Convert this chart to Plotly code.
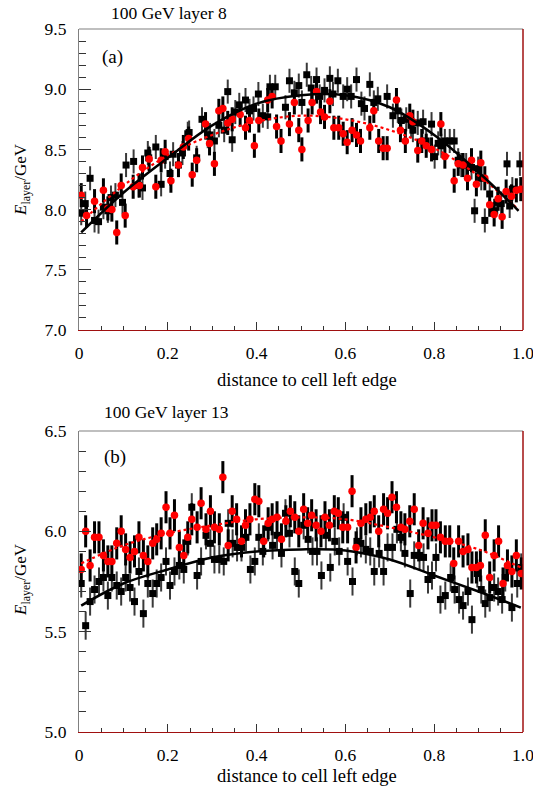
import plotly.graph_objects as go

# ---------------- data: panel (a) 100 GeV layer 8 ----------------
a_black_x = [0.005, 0.014, 0.025, 0.035, 0.044, 0.055, 0.065, 0.072, 0.082, 0.098,
             0.106, 0.123, 0.134, 0.143, 0.155, 0.157, 0.173, 0.185, 0.194, 0.205,
             0.212, 0.224, 0.233, 0.245, 0.248, 0.265, 0.277, 0.290, 0.295, 0.305,
             0.315, 0.327, 0.335, 0.345, 0.352, 0.361, 0.375, 0.384, 0.393, 0.404,
             0.414, 0.425, 0.430, 0.442, 0.465, 0.474, 0.485, 0.495, 0.502, 0.513,
             0.523, 0.535, 0.542, 0.553, 0.565, 0.572, 0.583, 0.595, 0.604, 0.613,
             0.625, 0.636, 0.643, 0.655, 0.664, 0.673, 0.694, 0.707, 0.718, 0.726,
             0.737, 0.748, 0.752, 0.763, 0.775, 0.782, 0.794, 0.801, 0.809, 0.816,
             0.824, 0.835, 0.845, 0.854, 0.861, 0.872, 0.884, 0.891, 0.899, 0.906,
             0.914, 0.925, 0.935, 0.942, 0.951, 0.964, 0.970, 0.976, 0.993]
a_black_y = [7.97, 8.05, 8.26, 7.91, 7.90, 8.02, 7.99, 8.10, 8.12, 8.06,
             8.37, 8.40, 8.20, 8.18, 8.47, 8.43, 8.52, 8.21, 8.44, 8.30,
             8.46, 8.37, 8.47, 8.63, 8.64, 8.43, 8.75, 8.61, 8.62, 8.57,
             8.70, 8.66, 8.98, 8.58, 8.81, 8.87, 8.91, 8.82, 8.84, 8.96,
             8.78, 8.77, 9.02, 9.02, 8.85, 9.07, 8.97, 9.03, 8.89, 9.12,
             9.01, 9.08, 8.94, 8.99, 9.09, 8.96, 9.07, 8.94, 9.00, 8.94,
             9.08, 8.88, 8.84, 9.04, 8.89, 8.92, 8.94, 8.78, 8.82, 8.74,
             8.75, 8.70, 8.66, 8.72, 8.73, 8.57, 8.71, 8.44, 8.55, 8.53,
             8.57, 8.57, 8.57, 8.41, 8.37, 8.37, 8.35, 7.99, 8.34, 8.26,
             7.91, 8.13, 7.99, 8.06, 8.05, 8.38, 8.03, 8.17, 8.38]
a_red_x = [0.005, 0.017, 0.035, 0.055, 0.065, 0.074, 0.085, 0.095, 0.104, 0.122,
           0.136, 0.143, 0.158, 0.173, 0.185, 0.194, 0.207, 0.224, 0.235, 0.247,
           0.255, 0.265, 0.285, 0.294, 0.305, 0.315, 0.324, 0.335, 0.345, 0.363,
           0.375, 0.384, 0.395, 0.405, 0.425, 0.435, 0.445, 0.455, 0.474, 0.485,
           0.495, 0.502, 0.516, 0.525, 0.535, 0.544, 0.553, 0.565, 0.574, 0.585,
           0.595, 0.604, 0.615, 0.625, 0.634, 0.655, 0.664, 0.675, 0.685, 0.694,
           0.715, 0.724, 0.735, 0.745, 0.752, 0.763, 0.772, 0.782, 0.794, 0.815,
           0.824, 0.845, 0.854, 0.865, 0.875, 0.884, 0.895, 0.905, 0.914, 0.925,
           0.935, 0.944, 0.953, 0.962, 0.974, 0.985, 0.995]
a_red_y = [8.12, 7.95, 8.07, 8.16, 8.01, 8.00, 7.81, 8.20, 7.95, 8.19,
           8.20, 8.35, 8.42, 8.19, 8.41, 8.48, 8.24, 8.37, 8.52, 8.59,
           8.29, 8.41, 8.71, 8.55, 8.38, 8.82, 8.84, 8.72, 8.75, 8.79,
           8.68, 8.74, 8.53, 8.74, 8.91, 8.94, 8.69, 8.57, 8.71, 8.89,
           8.66, 8.50, 8.74, 8.89, 8.98, 8.81, 8.77, 8.90, 8.68, 8.68,
           8.63, 8.56, 8.66, 8.62, 8.57, 8.68, 8.82, 8.57, 8.51, 8.51,
           8.91, 8.66, 8.57, 8.78, 8.73, 8.49, 8.57, 8.53, 8.50, 8.71,
           8.44, 8.24, 8.38, 8.37, 8.26, 8.41, 8.21, 8.39, 8.26, 8.04,
           7.96, 8.09, 7.94, 8.15, 8.11, 8.16, 8.17]
a_err_black = 0.10
a_err_red = 0.10
a_fit_x = [0.005, 0.1, 0.2, 0.3, 0.4, 0.5, 0.6, 0.7, 0.8, 0.9, 0.99]
a_fit_black = [7.81, 8.14, 8.43, 8.70, 8.88, 8.95, 8.95, 8.85, 8.62, 8.31, 7.99]
a_fit_red = [7.90, 8.20, 8.45, 8.62, 8.73, 8.78, 8.75, 8.66, 8.51, 8.28, 8.00]

# ---------------- data: panel (b) 100 GeV layer 13 ----------------
b_black_x = [0.005, 0.015, 0.025, 0.035, 0.045, 0.055, 0.065, 0.074, 0.085, 0.095,
             0.105, 0.115, 0.125, 0.135, 0.145, 0.155, 0.166, 0.175, 0.185, 0.196,
             0.205, 0.215, 0.226, 0.236, 0.245, 0.254, 0.266, 0.275, 0.286, 0.296,
             0.305, 0.316, 0.326, 0.336, 0.346, 0.356, 0.366, 0.376, 0.386, 0.396,
             0.405, 0.414, 0.426, 0.436, 0.446, 0.456, 0.465, 0.474, 0.486, 0.495,
             0.506, 0.516, 0.526, 0.536, 0.546, 0.556, 0.566, 0.576, 0.586, 0.596,
             0.605, 0.616, 0.626, 0.635, 0.646, 0.656, 0.665, 0.676, 0.686, 0.695,
             0.706, 0.716, 0.725, 0.734, 0.746, 0.755, 0.767, 0.776, 0.786, 0.795,
             0.804, 0.814, 0.825, 0.837, 0.846, 0.856, 0.865, 0.876, 0.885, 0.897,
             0.906, 0.915, 0.925, 0.935, 0.944, 0.953, 0.960, 0.975, 0.987, 0.996]
b_black_y = [5.74, 5.53, 5.65, 5.71, 5.75, 5.77, 5.68, 5.77, 5.73, 5.70,
             5.77, 5.72, 5.65, 5.80, 5.59, 5.74, 5.69, 5.74, 5.77, 5.85,
             5.73, 5.80, 5.83, 5.81, 5.95, 6.12, 5.78, 5.85, 5.98, 5.94,
             5.86, 5.86, 5.85, 6.04, 5.94, 5.92, 5.92, 5.97, 5.81, 5.85,
             5.97, 5.90, 6.02, 5.93, 5.98, 5.89, 6.09, 5.99, 5.80, 5.74,
             6.03, 5.96, 5.90, 5.90, 5.78, 5.98, 5.82, 5.95, 5.90, 6.07,
             5.85, 5.75, 5.95, 5.94, 5.91, 5.90, 5.80, 5.89, 5.80, 5.92,
             5.92, 6.01, 5.97, 5.89, 5.69, 5.88, 5.88, 5.87, 5.76, 5.78,
             5.87, 5.66, 5.68, 5.77, 5.71, 5.66, 5.63, 5.70, 5.56, 5.79,
             5.71, 5.64, 5.67, 5.72, 5.70, 5.66, 5.77, 5.62, 5.74, 5.82]
b_red_x = [0.005, 0.015, 0.025, 0.035, 0.045, 0.055, 0.065, 0.074, 0.085, 0.095,
           0.105, 0.115, 0.125, 0.135, 0.145, 0.155, 0.166, 0.175, 0.185, 0.196,
           0.205, 0.215, 0.226, 0.236, 0.245, 0.254, 0.266, 0.275, 0.286, 0.296,
           0.305, 0.316, 0.324, 0.336, 0.345, 0.355, 0.366, 0.375, 0.385, 0.396,
           0.405, 0.416, 0.426, 0.435, 0.446, 0.456, 0.466, 0.476, 0.486, 0.495,
           0.506, 0.515, 0.524, 0.534, 0.545, 0.554, 0.564, 0.575, 0.584, 0.594,
           0.605, 0.615, 0.624, 0.635, 0.646, 0.656, 0.665, 0.675, 0.686, 0.695,
           0.705, 0.715, 0.725, 0.734, 0.745, 0.755, 0.765, 0.775, 0.786, 0.795,
           0.804, 0.814, 0.825, 0.835, 0.844, 0.855, 0.865, 0.876, 0.885, 0.895,
           0.904, 0.915, 0.925, 0.935, 0.945, 0.955, 0.965, 0.975, 0.985, 0.996]
b_red_y = [5.81, 6.00, 5.83, 5.97, 5.97, 5.88, 5.85, 5.85, 5.94, 6.00,
           5.91, 5.87, 5.90, 5.97, 5.88, 5.85, 5.94, 5.96, 5.99, 6.12,
           5.99, 6.08, 5.92, 5.88, 5.97, 6.06, 6.02, 6.14, 6.01, 6.10,
           6.02, 6.01, 6.27, 5.93, 6.10, 6.06, 5.95, 6.03, 6.06, 6.16,
           6.15, 5.95, 6.04, 6.06, 6.07, 5.96, 6.05, 6.10, 6.07, 6.00,
           6.11, 6.04, 6.08, 6.03, 6.00, 6.07, 6.03, 6.10, 6.09, 6.02,
           6.02, 6.20, 5.92, 6.04, 6.06, 6.07, 6.10, 6.00, 6.11, 6.09,
           6.17, 6.12, 6.02, 6.01, 6.05, 6.11, 5.93, 6.04, 5.99, 6.03,
           6.03, 5.97, 5.95, 5.95, 5.84, 5.95, 5.90, 5.91, 5.82, 5.82,
           5.83, 5.98, 5.77, 5.88, 5.95, 5.74, 5.83, 5.80, 5.88, 5.79]
b_err_black = 0.07
b_err_red = 0.08
b_fit_x = [0.005, 0.1, 0.2, 0.3, 0.4, 0.5, 0.6, 0.7, 0.8, 0.9, 0.995]
b_fit_black = [5.63, 5.74, 5.81, 5.87, 5.90, 5.91, 5.905, 5.86, 5.78, 5.70, 5.62]
b_fit_red = [5.84, 5.93, 5.99, 6.03, 6.06, 6.07, 6.06, 6.02, 5.97, 5.91, 5.82]

x_tick_vals = [0, 0.2, 0.4, 0.6, 0.8, 1.0]
x_tick_text = ["0", "0.2", "0.4", "0.6", "0.8", "1.0"]
a_yrange = [7.0, 9.5]
b_yrange = [5.0, 6.5]
titles = ["100 GeV layer 8", "100 GeV layer 13"]
labels = ["(a)", "(b)"]
x_title = "distance to cell left edge"

FONT = "Liberation Serif"
RED = "#ff0000"
DARKRED = "#a01010"
GRAY = "#808080"
W, H = 533, 792

fig = go.Figure()

panels = [
    ("x", "y", a_black_x, a_black_y, a_err_black, a_red_x, a_red_y, a_err_red,
     a_fit_x, a_fit_black, a_fit_red),
    ("x2", "y2", b_black_x, b_black_y, b_err_black, b_red_x, b_red_y, b_err_red,
     b_fit_x, b_fit_black, b_fit_red),
]
for xa, ya, bx, by, be, rx, ry, re, fx, fb, fr in panels:
    fig.add_trace(go.Scatter(
        x=bx, y=by, mode="markers", xaxis=xa, yaxis=ya,
        marker=dict(symbol="square", size=7, color="black"),
        error_y=dict(type="constant", value=be, color="#3a3a3a", thickness=2, width=0),
        showlegend=False))
    fig.add_trace(go.Scatter(
        x=rx, y=ry, mode="markers", xaxis=xa, yaxis=ya,
        marker=dict(symbol="circle", size=7.5, color=RED),
        error_y=dict(type="constant", value=re, color="black", thickness=3, width=0),
        showlegend=False))
    fig.add_trace(go.Scatter(
        x=fx, y=fr, mode="lines", xaxis=xa, yaxis=ya, line_shape="spline",
        line=dict(color=RED, width=2.2, dash="dot"), showlegend=False))
    fig.add_trace(go.Scatter(
        x=fx, y=fb, mode="lines", xaxis=xa, yaxis=ya, line_shape="spline",
        line=dict(color="black", width=2.5), showlegend=False))

xdom = [79 / W, 523 / W]
ydom_a = [(H - 330) / H, (H - 29) / H]
ydom_b = [(H - 732) / H, (H - 431) / H]


def xaxis(anchor):
    return dict(domain=xdom, anchor=anchor, range=[0, 1], automargin=False,
                tickvals=x_tick_vals, ticktext=x_tick_text, ticklabeloverflow="allow",
                ticks="inside", ticklen=8, tickcolor="#333", tickwidth=1,
                minor=dict(dtick=0.05, tick0=0, ticks="inside", ticklen=4,
                           tickcolor="#333", tickwidth=1),
                showline=True, linecolor=DARKRED, linewidth=1.2,
                showgrid=False, zeroline=False, ticklabelstandoff=7,
                tickfont=dict(family=FONT, size=17.5, color="black"))


def yaxis(anchor, dom, rng):
    return dict(domain=dom, anchor=anchor, range=rng, dtick=0.5, tick0=rng[0],
                tickformat=".1f", automargin=False, ticklabeloverflow="allow",
                ticks="inside", ticklen=12, tickcolor="#333", tickwidth=1,
                minor=dict(dtick=0.1, tick0=rng[0], ticks="inside", ticklen=7,
                           tickcolor="#333", tickwidth=1),
                showline=True, linecolor=GRAY, linewidth=1.2,
                showgrid=False, zeroline=False, ticklabelstandoff=8,
                tickfont=dict(family=FONT, size=17.5, color="black"))


fig.update_layout(
    width=W, height=H, margin=dict(l=0, r=0, t=0, b=0, autoexpand=False),
    paper_bgcolor="white", plot_bgcolor="white",
    font=dict(family=FONT, color="black"),
    xaxis=xaxis("y"), yaxis=yaxis("x", ydom_a, a_yrange),
    xaxis2=xaxis("y2"), yaxis2=yaxis("x2", ydom_b, b_yrange),
)

shapes = []
for xr, yr in [("x domain", "y domain"), ("x2 domain", "y2 domain")]:
    shapes.append(dict(type="line", xref=xr, yref=yr, x0=0, x1=1, y0=1, y1=1,
                       line=dict(color=GRAY, width=1.2)))
    shapes.append(dict(type="line", xref=xr, yref=yr, x0=1, x1=1, y0=0, y1=1,
                       line=dict(color=DARKRED, width=1.5)))
fig.update_layout(shapes=shapes)

ann = []
pos = [(109, 13, 100, 57, 380, 180), (102, 412, 102, 457, 776, 580)]
for i, (tx, ty, lx, ly, xty, yty) in enumerate(pos):
    ann.append(dict(text=titles[i], xref="paper", yref="paper",
                    x=tx / W, y=1 - ty / H, xanchor="left", yanchor="middle",
                    showarrow=False, font=dict(family=FONT, size=17.5, color="black")))
    ann.append(dict(text=labels[i], xref="paper", yref="paper",
                    x=lx / W, y=1 - ly / H, xanchor="left", yanchor="middle",
                    showarrow=False, font=dict(family=FONT, size=19, color="black")))
    ann.append(dict(text=x_title, xref="paper", yref="paper",
                    x=307 / W, y=1 - xty / H, xanchor="center", yanchor="middle",
                    showarrow=False, font=dict(family=FONT, size=18.5, color="black")))
    ann.append(dict(text="<i>E</i><sub>layer</sub>/GeV", xref="paper", yref="paper",
                    x=22 / W, y=1 - yty / H, xanchor="center", yanchor="middle",
                    textangle=-90, showarrow=False,
                    font=dict(family=FONT, size=17, color="black")))
fig.update_layout(annotations=ann)

fig.write_html(
    "out.html",
    config={"displayModeBar": False},
    post_script="document.body.style.margin='0';"
                "document.documentElement.style.overflow='hidden';",
)
